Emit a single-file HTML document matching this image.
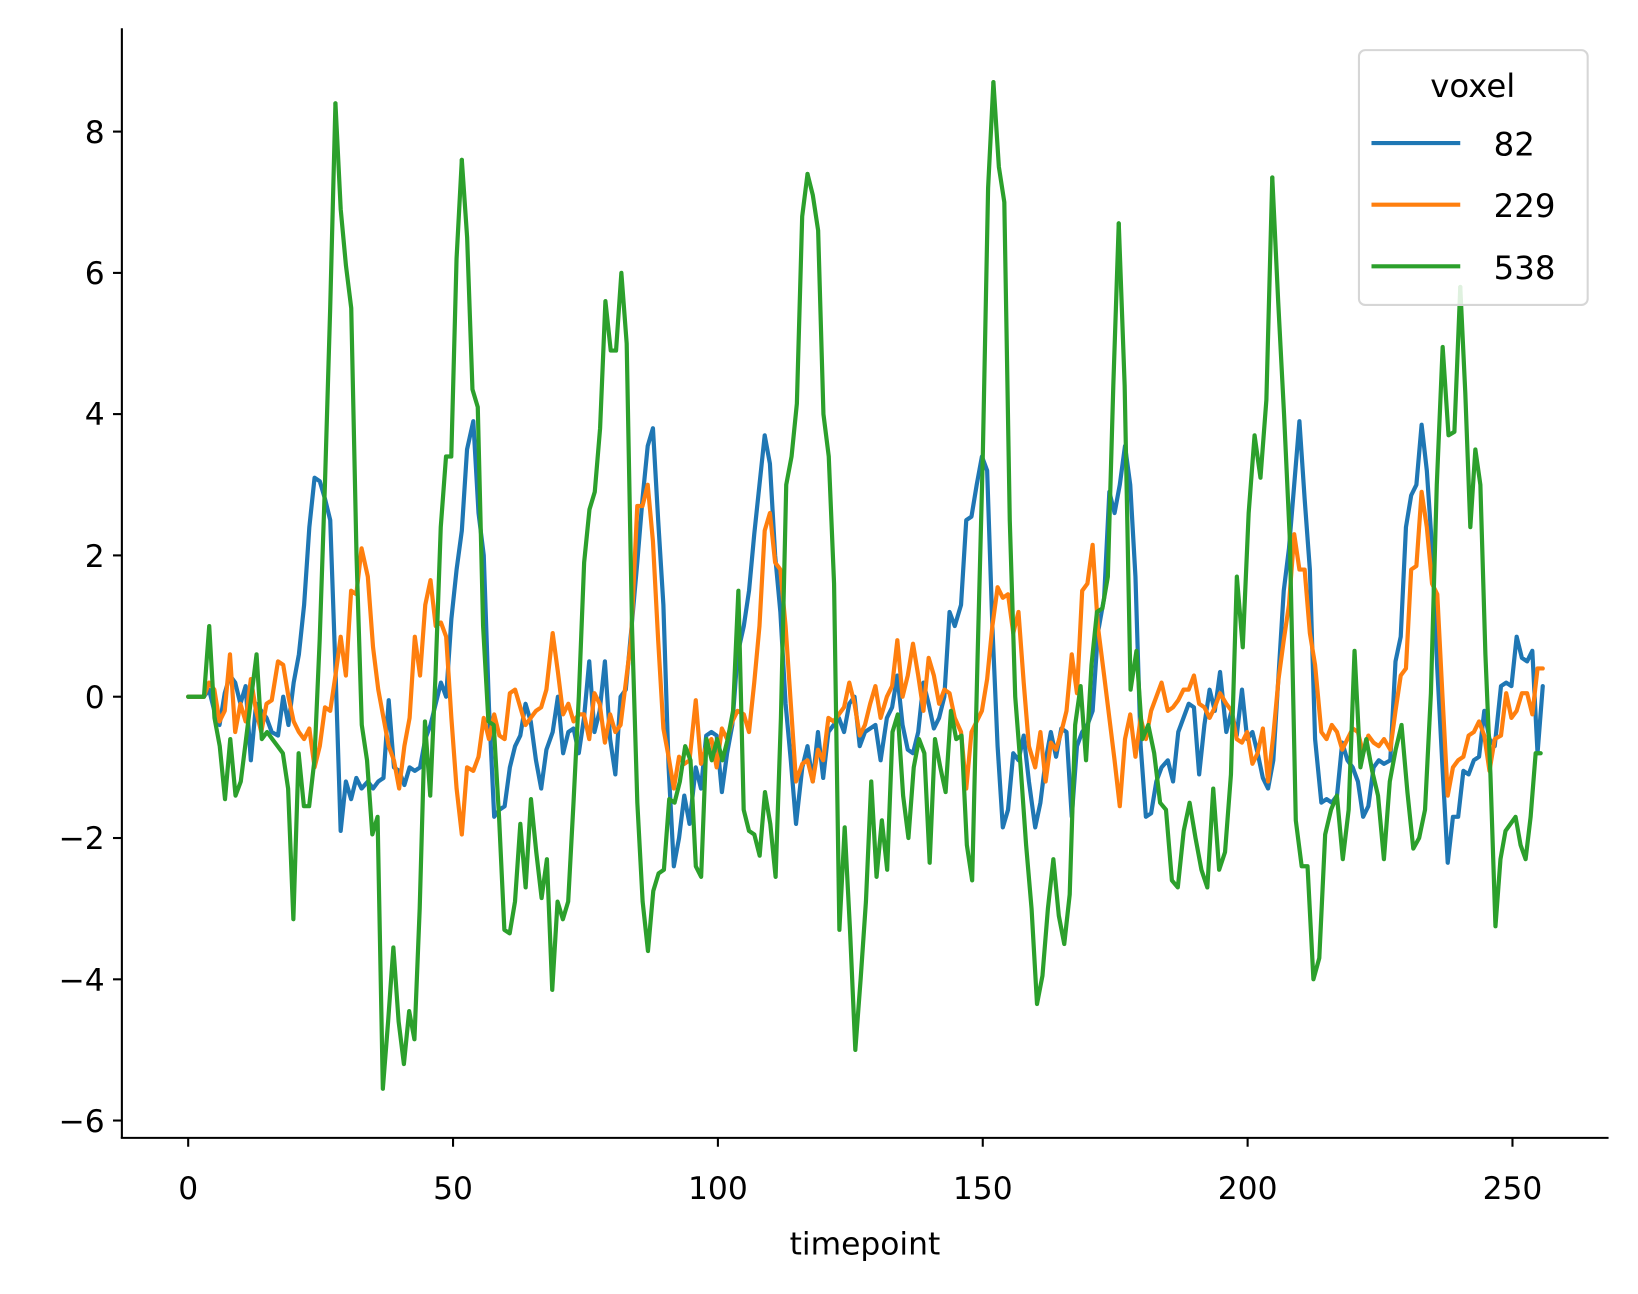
<!DOCTYPE html>
<html><head><meta charset="utf-8"><style>html,body{margin:0;padding:0;background:#fff}svg{display:block}</style></head>
<body>
<svg width="1638" height="1294" viewBox="0 0 1568 1239" xmlns="http://www.w3.org/2000/svg" font-family="'DejaVu Sans','Liberation Sans',sans-serif">
<rect width="1568" height="1239" fill="#fff"/>
<g fill="none" stroke-width="4.2" stroke-linejoin="round" stroke-linecap="round">
<g transform="translate(0,667.1) scale(1,-67.64)">
<polyline vector-effect="non-scaling-stroke" stroke="#1f77b4" points="180,0 195,0 200,0.1 205,-0.2 210,-0.4 215,0.05 220,0.3 225,0.2 230,-0.1 235,0.15 240,-0.9 245,-0.1 250,-0.2 255,-0.3 260,-0.5 266,-0.55 271,0 276,-0.4 281,0.2 286,0.6 291,1.3 296,2.4 301,3.1 306,3.05 311,2.8 316,2.5 321,0.4 326,-1.9 331,-1.2 336,-1.45 341,-1.15 346,-1.3 352,-1.2 357,-1.3 362,-1.2 367,-1.15 372,-0.05 377,-1.0 382,-1.05 387,-1.25 392,-1.0 397,-1.05 402,-1.0 407,-0.6 412,-0.4 417,-0.1 422,0.2 427,0 432,1.1 437,1.8 442,2.35 447,3.5 453,3.9 458,2.6 463,2.0 468,-0.15 473,-1.7 478,-1.6 483,-1.55 488,-1.0 493,-0.7 498,-0.55 503,-0.1 508,-0.35 513,-0.9 518,-1.3 523,-0.75 529,-0.5 534,0 539,-0.8 544,-0.5 549,-0.45 554,-0.8 559,-0.3 564,0.5 569,-0.5 574,-0.2 579,0.5 584,-0.6 589,-1.1 594,0 599,0.1 604,0.9 610,1.9 615,2.8 620,3.55 625,3.8 630,2.5 635,1.3 640,-1.0 645,-2.4 650,-2.0 655,-1.4 660,-1.8 666,-1.0 671,-1.3 676,-0.55 681,-0.5 686,-0.55 691,-1.35 696,-0.8 701,-0.4 706,0.6 712,1.0 717,1.5 722,2.3 727,3.0 732,3.7 737,3.3 742,2.0 747,1.2 752,-0.1 757,-0.9 762,-1.8 768,-1.0 773,-0.7 778,-1.2 783,-0.5 788,-1.15 793,-0.5 798,-0.4 803,-0.3 808,-0.5 813,-0.1 818,0 823,-0.7 828,-0.5 833,-0.45 838,-0.4 843,-0.9 849,-0.3 854,-0.15 859,0.3 864,-0.4 869,-0.75 874,-0.8 879,-0.5 884,0.2 889,-0.1 894,-0.45 899,-0.3 904,0 909,1.2 914,1.0 920,1.3 925,2.5 930,2.55 935,3.0 940,3.4 945,3.2 950,1.0 955,-0.7 960,-1.85 965,-1.6 970,-0.8 975,-0.9 980,-0.55 985,-1.2 991,-1.85 996,-1.5 1001,-0.9 1006,-0.5 1011,-0.85 1016,-0.45 1021,-0.5 1026,-1.7 1031,-0.7 1036,-0.5 1041,-0.4 1046,-0.2 1051,0.9 1057,1.4 1062,2.9 1067,2.6 1072,3.0 1077,3.55 1082,3.0 1087,1.7 1092,-0.7 1097,-1.7 1102,-1.65 1107,-1.2 1112,-1.0 1118,-0.9 1123,-1.2 1128,-0.5 1133,-0.3 1138,-0.1 1143,-0.15 1148,-1.1 1153,-0.4 1158,0.1 1163,-0.2 1168,0.35 1174,-0.5 1179,-0.2 1184,-0.55 1189,0.1 1194,-0.6 1199,-0.5 1204,-0.8 1209,-1.15 1214,-1.3 1219,-0.9 1224,0.3 1229,1.5 1234,2.1 1239,3.0 1244,3.9 1249,2.8 1254,1.8 1259,-0.6 1265,-1.5 1270,-1.45 1275,-1.5 1280,-1.4 1285,-0.65 1290,-0.9 1295,-1.0 1300,-1.2 1305,-1.7 1310,-1.55 1315,-1.0 1320,-0.9 1325,-0.95 1331,-0.9 1336,0.5 1341,0.85 1346,2.4 1351,2.85 1356,3.0 1361,3.85 1366,3.2 1371,2.1 1376,0.4 1381,-1.0 1386,-2.35 1391,-1.7 1396,-1.7 1401,-1.05 1406,-1.1 1411,-0.9 1416,-0.85 1421,-0.2 1426,-0.6 1431,-0.7 1437,0.15 1442,0.2 1447,0.15 1452,0.85 1457,0.55 1462,0.5 1467,0.65 1472,-0.8 1477,0.15"/>
<polyline vector-effect="non-scaling-stroke" stroke="#ff7f0e" points="180,0 195,0 200,0.2 205,0.1 210,-0.35 215,-0.2 220,0.6 225,-0.5 230,-0.1 235,-0.35 240,0.25 245,-0.2 250,-0.5 255,-0.1 260,-0.05 266,0.5 271,0.45 276,0 281,-0.35 286,-0.5 291,-0.6 296,-0.45 301,-1.0 306,-0.7 311,-0.15 316,-0.2 321,0.3 326,0.85 331,0.3 336,1.5 341,1.45 346,2.1 352,1.7 357,0.7 362,0.1 367,-0.3 372,-0.7 377,-0.9 382,-1.3 387,-0.7 392,-0.3 397,0.85 402,0.3 407,1.3 412,1.65 417,1.0 422,1.05 427,0.85 432,-0.3 437,-1.3 442,-1.95 447,-1.0 453,-1.05 458,-0.85 463,-0.3 468,-0.6 473,-0.25 478,-0.55 483,-0.6 488,0.05 493,0.1 498,-0.15 503,-0.4 508,-0.3 513,-0.2 518,-0.15 523,0.1 529,0.9 534,0.35 539,-0.25 544,-0.1 549,-0.35 554,-0.25 559,-0.25 564,-0.6 569,0.05 574,-0.1 579,-0.65 584,-0.25 589,-0.5 594,-0.4 599,0.2 604,0.8 610,2.7 615,2.7 620,3.0 625,2.2 630,0.8 635,-0.45 640,-0.85 645,-1.3 650,-0.85 655,-0.95 660,-0.9 666,-0.05 671,-0.95 676,-0.7 681,-0.6 686,-1.0 691,-0.45 696,-0.6 701,-0.35 706,-0.2 712,-0.25 717,-0.5 722,0.2 727,1.0 732,2.35 737,2.6 742,1.9 747,1.8 752,1.0 757,-0.1 762,-1.2 768,-0.95 773,-0.9 778,-1.2 783,-0.75 788,-0.9 793,-0.3 798,-0.35 803,-0.25 808,-0.15 813,0.2 818,-0.1 823,-0.55 828,-0.4 833,-0.1 838,0.15 843,-0.3 849,0 854,0.15 859,0.8 864,0.0 869,0.3 874,0.75 879,0.3 884,-0.2 889,0.55 894,0.3 899,-0.1 904,0.1 909,0.05 914,-0.3 920,-0.5 925,-1.3 930,-0.5 935,-0.35 940,-0.2 945,0.25 950,1.0 955,1.55 960,1.4 965,1.45 970,0.9 975,1.2 980,0.2 985,-0.7 991,-1.0 996,-0.5 1001,-1.2 1006,-0.65 1011,-0.75 1016,-0.5 1021,-0.2 1026,0.6 1031,0.05 1036,1.5 1041,1.6 1046,2.15 1051,1.0 1057,0.3 1062,-0.3 1067,-0.9 1072,-1.55 1077,-0.6 1082,-0.25 1087,-0.85 1092,-0.3 1097,-0.6 1102,-0.2 1107,0.0 1112,0.2 1118,-0.2 1123,-0.15 1128,-0.05 1133,0.1 1138,0.1 1143,0.3 1148,-0.1 1153,-0.15 1158,-0.3 1163,-0.15 1168,0.05 1174,-0.1 1179,-0.2 1184,-0.6 1189,-0.65 1194,-0.5 1199,-0.95 1204,-0.8 1209,-0.45 1214,-1.2 1219,-0.55 1224,0.25 1229,0.8 1234,1.3 1239,2.3 1244,1.8 1249,1.8 1254,0.9 1259,0.45 1265,-0.5 1270,-0.6 1275,-0.4 1280,-0.5 1285,-0.75 1290,-0.6 1295,-0.45 1300,-0.5 1305,-0.8 1310,-0.55 1315,-0.65 1320,-0.7 1325,-0.6 1331,-0.75 1336,-0.2 1341,0.3 1346,0.4 1351,1.8 1356,1.85 1361,2.9 1366,2.4 1371,1.6 1376,1.45 1381,0.0 1386,-1.4 1391,-1.0 1396,-0.9 1401,-0.85 1406,-0.55 1411,-0.5 1416,-0.35 1421,-0.55 1426,-1.05 1431,-0.6 1437,-0.55 1442,0.05 1447,-0.3 1452,-0.2 1457,0.05 1462,0.05 1467,-0.25 1472,0.4 1477,0.4"/>
</g>
<g stroke="#2ca02c">
<polyline vector-effect="non-scaling-stroke" transform="translate(180,667.1) scale(5.0357,-67.64)" points="0,0 1,0 2,0 3,0 4,1 5,-0.3 6,-0.7 7,-1.45 8,-0.6 9,-1.4 10,-1.2 11,-0.6 12,0 13,0.6 14,-0.6 15,-0.5 16,-0.6 17,-0.7 18,-0.8 19,-1.3 20,-3.15 21,-0.8 22,-1.55 23,-1.55 24,-0.9 25,0.8 26,3 27,5.5 28,8.4"/>
<polyline vector-effect="non-scaling-stroke" transform="translate(179.83,667.1) scale(5.0417,-67.64)" points="28,8.4 29,6.9 30,6.1 31,5.5 32,2 33,-0.4 34,-0.9 35,-1.95 36,-1.7 37,-5.55 38,-4.6 39,-3.55 40,-4.6 41,-5.2 42,-4.45 43,-4.85 44,-3 45,-0.35 46,-1.4 47,0.3 48,2.4 49,3.4 50,3.4 51,6.2 52,7.6"/>
<polyline vector-effect="non-scaling-stroke" transform="translate(177.2,667.1) scale(5.0923,-67.64)" points="52,7.6 53,6.5 54,4.35 55,4.1 56,1 57,-0.35 58,-0.4 59,-1.7 60,-3.3 61,-3.35 62,-2.9 63,-1.8 64,-2.7 65,-1.45 66,-2.2 67,-2.85 68,-2.3 69,-4.15 70,-2.9 71,-3.15 72,-2.9 73,-1.5 74,0 75,1.9 76,2.65 77,2.9 78,3.8 79,5.6 80,4.9 81,4.9 82,6 83,5 84,1 85,-1.5 86,-2.9 87,-3.6 88,-2.75 89,-2.5 90,-2.45 91,-1.45 92,-1.5 93,-1.2 94,-0.7 95,-0.9 96,-2.4 97,-2.55 98,-0.6 99,-0.9 100,-0.6 101,-0.9 102,-0.6 103,-0.2 104,1.5 105,-1.6 106,-1.9 107,-1.95 108,-2.25 109,-1.35 110,-1.8 111,-2.55 112,-0.3 113,3 114,3.4 115,4.15 116,6.8 117,7.4"/>
<polyline vector-effect="non-scaling-stroke" transform="translate(177.97,667.1) scale(5.0857,-67.64)" points="117,7.4 118,7.1 119,6.6 120,4 121,3.4 122,1.6 123,-3.3 124,-1.85 125,-3.3 126,-5 127,-4 128,-2.9 129,-1.2 130,-2.55 131,-1.75 132,-2.45 133,-0.5 134,-0.25 135,-1.4 136,-2 137,-1 138,-0.6 139,-0.8 140,-2.35 141,-0.6 142,-1 143,-1.35 144,-0.2 145,-0.6 146,-0.55 147,-2.1 148,-2.6 149,0.5 150,3.4 151,7.2 152,8.7"/>
<polyline vector-effect="non-scaling-stroke" transform="translate(157.96,667.1) scale(5.2174,-67.64)" points="152,8.7 153,7.5 154,7 155,2.5 156,0 157,-1 158,-2.1 159,-3 160,-4.35 161,-3.95 162,-3 163,-2.3 164,-3.1 165,-3.5 166,-2.8 167,-0.4 168,0.15 169,-0.9 170,0.45 171,1.2 172,1.25 173,1.7 174,4.4 175,6.7"/>
<polyline vector-effect="non-scaling-stroke" transform="translate(81.6,667.1) scale(5.6538,-67.64)" points="175,6.7 176,4.4 177,0.1 178,0.65 179,-0.6 180,-0.4 181,-0.8 182,-1.5 183,-1.6 184,-2.6 185,-2.7 186,-1.9 187,-1.5 188,-2 189,-2.45 190,-2.7 191,-1.3 192,-2.45 193,-2.2 194,-1.1 195,1.7 196,0.7 197,2.6 198,3.7 199,3.1 200,4.2 201,7.35"/>
<polyline vector-effect="non-scaling-stroke" transform="translate(87.4,667.1) scale(5.625,-67.64)" points="201,7.35 202,5.6 203,4 204,2.2 205,-1.75 206,-2.4 207,-2.4 208,-4 209,-3.7 210,-1.95 211,-1.6 212,-1.4 213,-2.3 214,-1.6 215,0.65 216,-1 217,-0.6 218,-1.05 219,-1.4 220,-2.3 221,-1.2 222,-0.75 223,-0.4 224,-1.35 225,-2.15 226,-2 227,-1.6 228,0.05 229,3 230,4.95 231,3.7 232,3.75 233,5.8"/>
<polyline vector-effect="non-scaling-stroke" transform="translate(276.7,667.1) scale(4.8125,-67.64)" points="233,5.8 234,4.3 235,2.4 236,3.5 237,3 238,0.6 239,-1.1 240,-3.25 241,-2.3 242,-1.9 243,-1.8 244,-1.7 245,-2.1 246,-2.3 247,-1.7 248,-0.8 249,-0.8"/>
</g>
</g>
<g stroke="#000" stroke-width="2">
<line x1="116.5" y1="27" x2="116.5" y2="1090"/>
<line x1="115.5" y1="1089.5" x2="1540" y2="1089.5"/>
<line x1="108" y1="126" x2="116" y2="126"/>
<line x1="108" y1="261.3" x2="116" y2="261.3"/>
<line x1="108" y1="396.5" x2="116" y2="396.5"/>
<line x1="108" y1="531.8" x2="116" y2="531.8"/>
<line x1="108" y1="667.1" x2="116" y2="667.1"/>
<line x1="108" y1="802.4" x2="116" y2="802.4"/>
<line x1="108" y1="937.7" x2="116" y2="937.7"/>
<line x1="108" y1="1072.9" x2="116" y2="1072.9"/>
<line x1="180" y1="1090" x2="180" y2="1098"/>
<line x1="433.6" y1="1090" x2="433.6" y2="1098"/>
<line x1="687.2" y1="1090" x2="687.2" y2="1098"/>
<line x1="940.8" y1="1090" x2="940.8" y2="1098"/>
<line x1="1194.4" y1="1090" x2="1194.4" y2="1098"/>
<line x1="1448" y1="1090" x2="1448" y2="1098"/>
</g>
<g font-size="30" fill="#000" text-anchor="end">
<text x="100" y="137">8</text>
<text x="100" y="272">6</text>
<text x="100" y="407">4</text>
<text x="100" y="543">2</text>
<text x="100" y="678">0</text>
<text x="100" y="813">−2</text>
<text x="100" y="949">−4</text>
<text x="100" y="1084">−6</text>
</g>
<g font-size="30" fill="#000" text-anchor="middle">
<text x="180" y="1148">0</text>
<text x="433.6" y="1148">50</text>
<text x="687.2" y="1148">100</text>
<text x="940.8" y="1148">150</text>
<text x="1194.4" y="1148">200</text>
<text x="1448" y="1148">250</text>
<text x="828" y="1201">timepoint</text>
</g>
<rect x="1301" y="48" width="219" height="244" rx="6" fill="#fff" fill-opacity="0.85" stroke="#d6d6d6" stroke-width="2"/>
<text x="1410" y="93" font-size="31" text-anchor="middle">voxel</text>
<line x1="1313" y1="137" x2="1398" y2="137" stroke="#1f77b4" stroke-width="4"/>
<line x1="1313" y1="196" x2="1398" y2="196" stroke="#ff7f0e" stroke-width="4"/>
<line x1="1313" y1="255" x2="1398" y2="255" stroke="#2ca02c" stroke-width="4"/>
<text x="1430" y="149" font-size="31">82</text>
<text x="1430" y="208" font-size="31">229</text>
<text x="1430" y="267" font-size="31">538</text>
</svg>
</body></html>
